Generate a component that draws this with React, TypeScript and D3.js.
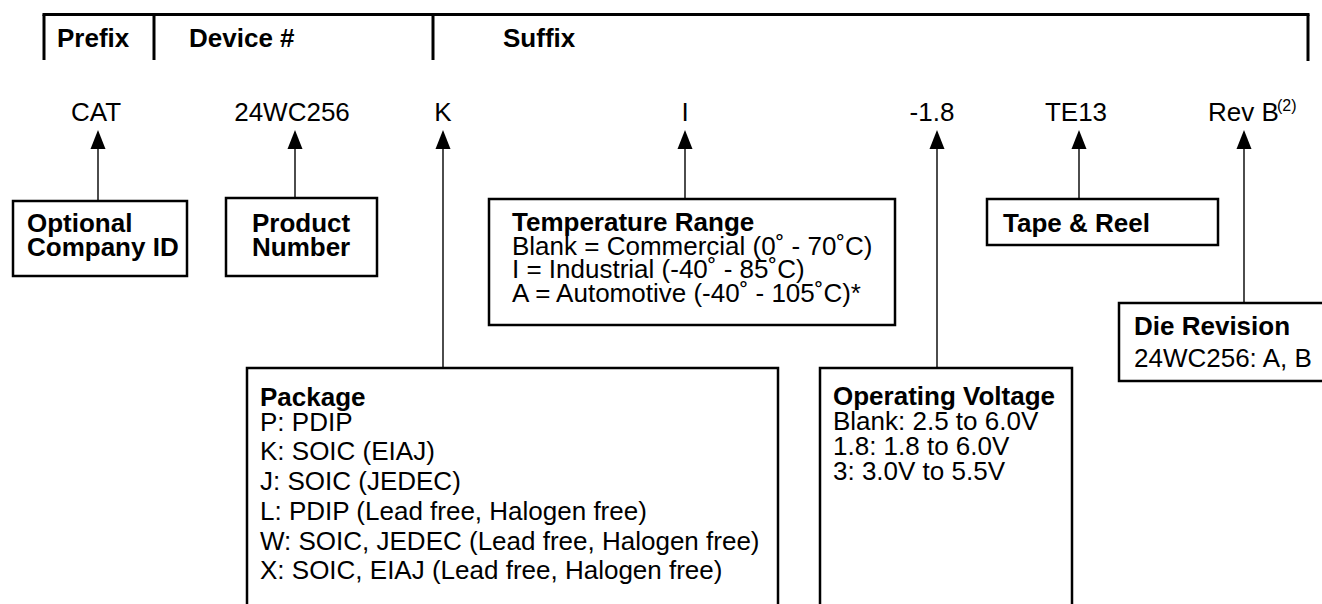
import React, { useRef, useEffect } from "react";
import * as d3 from "d3";

// header fields and the part number pieces
const headerFields = ["Prefix", "Device #", "Suffix"];
const partCodes = ["CAT", "24WC256", "K", "I", "-1.8", "TE13", "Rev B"];
const revNote = "(2)";

// description boxes, one per part code
const boxTitles = [
  ["Optional", "Company ID"],
  ["Product", "Number"],
  ["Package"],
  ["Temperature Range"],
  ["Operating Voltage"],
  ["Tape & Reel"],
  ["Die Revision"],
];
const packageLines = [
  "P: PDIP",
  "K: SOIC (EIAJ)",
  "J: SOIC (JEDEC)",
  "L: PDIP (Lead free, Halogen free)",
  "W: SOIC, JEDEC (Lead free, Halogen free)",
  "X: SOIC, EIAJ (Lead free, Halogen free)",
];
const temperatureLines = [
  "Blank = Commercial (0˚ - 70˚C)",
  "I = Industrial (-40˚ - 85˚C)",
  "A = Automotive (-40˚ - 105˚C)*",
];
const voltageLines = ["Blank: 2.5 to 6.0V", "1.8: 1.8 to 6.0V", "3: 3.0V to 5.5V"];
const revisionLines = ["24WC256: A, B"];
const boxLines = [[], [], packageLines, temperatureLines, voltageLines, [], revisionLines];

// layout (pixels)
const W = 1322;
const H = 604;
const header = { top: 14.5, bottom: 60, dividers: [44, 154, 433, 1308], textX: [57, 189, 503], baseline: 47 };
const codeX = [96, 292, 443, 685, 932, 1076, 1208];
const arrowX = [98, 295, 443, 685, 937, 1079, 1244];
const arrowTip = 130;
const arrowBase = 149;
const boxes = [
  { x0: 13, x1: 187, y0: 201, y1: 276, tx: 27, rows: [232, 256] },
  { x0: 226, x1: 377, y0: 198, y1: 276, tx: 252, rows: [232, 256] },
  { x0: 247, x1: 778, y0: 368, y1: 640, tx: 260, rows: [406, 431, 460, 490, 520, 550, 579] },
  { x0: 489, x1: 895, y0: 199, y1: 325, tx: 512, rows: [231, 255, 278, 302] },
  { x0: 820, x1: 1072, y0: 368, y1: 640, tx: 833, rows: [405, 430, 455, 480] },
  { x0: 987, x1: 1218, y0: 199, y1: 245, tx: 1003, rows: [232] },
  { x0: 1119, x1: 1360, y0: 303, y1: 381, tx: 1134, rows: [335, 367] },
];

const FONT = "'Liberation Sans', Arial, Helvetica, sans-serif";

const OrderingInfo = () => {
  const ref = useRef<SVGSVGElement>(null);

  useEffect(() => {
    const svg = d3.select(ref.current);
    svg.selectAll("*").remove();
    svg.style("font-family", FONT);

    // header bracket
    const hd = svg.append("g").attr("stroke", "#000").attr("stroke-width", 3);
    hd.append("line")
      .attr("x1", header.dividers[0] - 1.5)
      .attr("x2", header.dividers[3] + 1.5)
      .attr("y1", header.top)
      .attr("y2", header.top);
    hd.selectAll("line.div")
      .data(header.dividers)
      .enter()
      .append("line")
      .attr("class", "div")
      .attr("x1", (d) => d)
      .attr("x2", (d) => d)
      .attr("y1", header.top)
      .attr("y2", (d, i) => (i === 3 ? header.bottom + 1 : header.bottom));

    svg.selectAll("text.hdr")
      .data(headerFields)
      .enter()
      .append("text")
      .attr("class", "hdr")
      .attr("x", (d, i) => header.textX[i])
      .attr("y", header.baseline)
      .attr("font-size", 26)
      .attr("font-weight", "bold")
      .text((d) => d);

    // part number pieces
    svg.selectAll("text.code")
      .data(partCodes)
      .enter()
      .append("text")
      .attr("class", "code")
      .attr("x", (d, i) => codeX[i])
      .attr("y", 121)
      .attr("font-size", 26)
      .attr("text-anchor", (d, i) => (i === partCodes.length - 1 ? "start" : "middle"))
      .text((d) => d);

    svg.append("text")
      .attr("x", codeX[6] + 69)
      .attr("y", 111)
      .attr("font-size", 16)
      .text(revNote);

    // arrows from boxes up to the codes
    const lineGen = d3.line();
    arrowX.forEach((x, i) => {
      svg.append("path")
        .attr("d", lineGen([[x, arrowBase - 1], [x, boxes[i].y0]]))
        .attr("stroke", "#000")
        .attr("stroke-width", 1.4)
        .attr("fill", "none");
      svg.append("path")
        .attr("d", lineGen([[x, arrowTip], [x + 7.5, arrowBase], [x - 7.5, arrowBase]]) + "Z")
        .attr("fill", "#000");
    });

    // boxes
    boxes.forEach((b, i) => {
      const g = svg.append("g");
      g.append("rect")
        .attr("x", b.x0)
        .attr("y", b.y0)
        .attr("width", b.x1 - b.x0)
        .attr("height", b.y1 - b.y0)
        .attr("fill", "#fff")
        .attr("stroke", "#000")
        .attr("stroke-width", 2.5);
      const rows = [
        ...boxTitles[i].map((t) => ({ t, bold: true })),
        ...boxLines[i].map((t) => ({ t, bold: false })),
      ];
      g.selectAll("text")
        .data(rows)
        .enter()
        .append("text")
        .attr("x", b.tx)
        .attr("y", (d, k) => b.rows[k])
        .attr("font-size", 26)
        .attr("font-weight", (d) => (d.bold ? "bold" : "normal"))
        .text((d) => d.t);
    });
  }, []);

  return <svg ref={ref} width={W} height={H} style={{ display: "block", background: "#fff" }} />;
};

export default function App() {
  return (
    <div style={{ position: "fixed", left: 0, top: 0, width: W, height: H, background: "#fff" }}>
      <OrderingInfo />
    </div>
  );
}
